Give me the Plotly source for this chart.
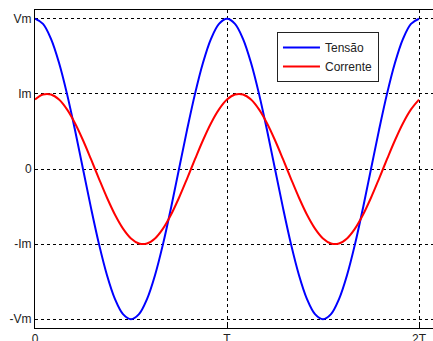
import plotly.graph_objects as go

# phase in degrees (one period T = 360)
phase_deg = [0, 15, 30, 45, 60, 75, 90, 105, 120, 135, 150, 165, 180, 195, 210, 225, 240, 255, 270, 285, 300, 315, 330, 345,
             360, 375, 390, 405, 420, 435, 450, 465, 480, 495, 510, 525, 540, 555, 570, 585, 600, 615, 630, 645, 660, 675, 690, 705, 720]

tensao = [2.0, 1.932, 1.732, 1.414, 1.0, 0.518, 0.0, -0.518, -1.0, -1.414, -1.732, -1.932,
          -2.0, -1.932, -1.732, -1.414, -1.0, -0.518, 0.0, 0.518, 1.0, 1.414, 1.732, 1.932,
          2.0, 1.932, 1.732, 1.414, 1.0, 0.518, 0.0, -0.518, -1.0, -1.414, -1.732, -1.932,
          -2.0, -1.932, -1.732, -1.414, -1.0, -0.518, 0.0, 0.518, 1.0, 1.414, 1.732, 1.932, 2.0]

corrente = [0.924, 0.991, 0.991, 0.924, 0.793, 0.609, 0.383, 0.131, -0.131, -0.383, -0.609, -0.793,
            -0.924, -0.991, -0.991, -0.924, -0.793, -0.609, -0.383, -0.131, 0.131, 0.383, 0.609, 0.793,
            0.924, 0.991, 0.991, 0.924, 0.793, 0.609, 0.383, 0.131, -0.131, -0.383, -0.609, -0.793,
            -0.924, -0.991, -0.991, -0.924, -0.793, -0.609, -0.383, -0.131, 0.131, 0.383, 0.609, 0.793, 0.924]

x_tickvals = [0, 360, 720]
x_ticktext = ["0", "T", "2T"]
y_tickvals = [2, 1, 0, -1, -2]
y_ticktext = ["Vm", "Im", "0", "-Im", "-Vm"]

fig = go.Figure()
fig.add_trace(go.Scatter(x=phase_deg, y=tensao, mode="lines", name="Tensão",
                         line=dict(color="#0000ff", width=2, shape="spline", smoothing=1.0)))
fig.add_trace(go.Scatter(x=phase_deg, y=corrente, mode="lines", name="Corrente",
                         line=dict(color="#ff0000", width=2, shape="spline", smoothing=1.0)))

fig.update_layout(
    width=433, height=341,
    margin=dict(l=35, r=0, t=10, b=13, autoexpand=False),
    paper_bgcolor="white", plot_bgcolor="white",
    font=dict(family="Liberation Sans, Arial, sans-serif", size=12, color="#222"),
    showlegend=True,
    legend=dict(x=0.608, y=0.931, xanchor="left", yanchor="top",
                bgcolor="white", bordercolor="#222", borderwidth=1,
                font=dict(size=12, color="#222"), tracegroupgap=0,
                itemwidth=37),
)
fig.update_xaxes(range=[0, 746.25], tickvals=x_tickvals, ticktext=x_ticktext,
                 showline=True, linecolor="black", linewidth=1, mirror=True,
                 showgrid=True, gridcolor="black", gridwidth=1, griddash="3px,3px",
                 ticks="inside", ticklen=4, tickcolor="black", zeroline=False,
                 automargin=False, ticklabelstandoff=0)
fig.update_yaxes(range=[-2.116, 2.116], tickvals=y_tickvals, ticktext=y_ticktext,
                 showline=True, linecolor="black", linewidth=1, mirror=True,
                 showgrid=True, gridcolor="black", gridwidth=1, griddash="3px,3px",
                 ticks="", zeroline=False, automargin=False)

fig.write_html("out.html")
